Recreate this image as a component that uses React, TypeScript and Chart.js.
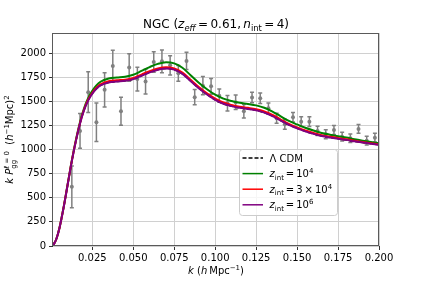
import React, { useEffect, useRef } from "react";
import { Chart, registerables } from "chart.js";
Chart.register(...registerables);

// ---- measured data points (k, k P0, error) ----
const kData = [0.0125, 0.0175, 0.0225, 0.0275, 0.0325, 0.0375, 0.0425, 0.0475, 0.0525, 0.0575, 0.0625, 0.0675, 0.0725, 0.0775, 0.0825, 0.0875, 0.0925, 0.0975, 0.1025, 0.1075, 0.1125, 0.1175, 0.1225, 0.1275, 0.1325, 0.1375, 0.1425, 0.1475, 0.1525, 0.1575, 0.1625, 0.1675, 0.1725, 0.1775, 0.1825, 0.1875, 0.1925, 0.1975];
const pData = [613, 1193, 1595, 1283, 1619, 1865, 1397, 1851, 1730, 1704, 1907, 1915, 1873, 1790, 1919, 1543, 1662, 1655, 1558, 1480, 1491, 1397, 1539, 1532, 1428, 1325, 1262, 1335, 1289, 1289, 1193, 1158, 1203, 1133, 1117, 1214, 1092, 1123];
const errData = [216, 180, 212, 200, 177, 163, 144, 142, 123, 128, 106, 118, 100, 81, 90, 80, 94, 81, 69, 81, 75, 70, 55, 55, 55, 52, 52, 50, 50, 50, 48, 47, 46, 45, 45, 45, 45, 45];

// ---- model curves ----
const kModel = [0.001, 0.003, 0.005, 0.0075, 0.01, 0.0125, 0.015, 0.0175, 0.02, 0.0225, 0.025, 0.0275, 0.03, 0.035, 0.04, 0.045, 0.05, 0.055, 0.06, 0.065, 0.07, 0.075, 0.08, 0.085, 0.09, 0.095, 0.1, 0.105, 0.11, 0.115, 0.12, 0.125, 0.13, 0.135, 0.14, 0.145, 0.15, 0.155, 0.16, 0.165, 0.17, 0.175, 0.18, 0.185, 0.19, 0.195, 0.2];
const lcdmModel = [5, 70, 190, 400, 640, 880, 1090, 1270, 1410, 1510, 1580, 1630, 1665, 1695, 1705, 1712, 1730, 1765, 1800, 1828, 1840, 1828, 1785, 1710, 1635, 1570, 1515, 1475, 1450, 1432, 1420, 1406, 1383, 1346, 1300, 1255, 1220, 1188, 1162, 1140, 1125, 1112, 1100, 1085, 1072, 1060, 1048];
const zint1e4 = [5, 70, 191, 403, 645, 888, 1102, 1286, 1430, 1535, 1610, 1665, 1703, 1737, 1747, 1755, 1775, 1815, 1855, 1888, 1905, 1893, 1848, 1770, 1692, 1625, 1568, 1528, 1503, 1485, 1473, 1458, 1433, 1393, 1344, 1297, 1260, 1226, 1197, 1172, 1154, 1138, 1124, 1107, 1092, 1078, 1064];
const zint3e4 = [5, 70, 190, 402, 643, 884, 1095, 1276, 1417, 1518, 1589, 1640, 1675, 1707, 1717, 1724, 1742, 1777, 1813, 1841, 1853, 1841, 1798, 1723, 1648, 1582, 1527, 1487, 1462, 1444, 1432, 1418, 1395, 1358, 1311, 1266, 1230, 1198, 1171, 1149, 1133, 1120, 1107, 1092, 1078, 1066, 1053];
const zint1e6 = [5, 70, 190, 400, 640, 880, 1090, 1270, 1410, 1510, 1580, 1630, 1665, 1695, 1705, 1712, 1730, 1765, 1800, 1828, 1840, 1828, 1785, 1710, 1635, 1570, 1515, 1475, 1450, 1432, 1420, 1406, 1383, 1346, 1300, 1255, 1220, 1188, 1162, 1140, 1125, 1112, 1100, 1085, 1072, 1060, 1048];

const xTicks = [0.025, 0.05, 0.075, 0.1, 0.125, 0.15, 0.175, 0.2];
const yTicks = [0, 250, 500, 750, 1000, 1250, 1500, 1750, 2000];

const FONT = '"DejaVu Sans"';
const GREY = "#808080";
const TS = "\u2009";

type Seg = { t: string; it?: boolean; sc?: number; dy?: number; hold?: boolean };
const fnt = (size: number, it?: boolean) => `${it ? "italic " : ""}${size}px ${FONT}`;

function drawRich(ctx: CanvasRenderingContext2D, segs: Seg[], x: number, y: number, size: number, align: "left" | "center") {
  const ws = segs.map((s) => {
    ctx.font = fnt(size * (s.sc ?? 1), s.it);
    return ctx.measureText(s.t).width;
  });
  let total = 0;
  segs.forEach((s, i) => { if (!s.hold) total += ws[i]; });
  let cx = align === "center" ? x - total / 2 : x;
  ctx.textAlign = "left";
  ctx.textBaseline = "alphabetic";
  segs.forEach((s, i) => {
    ctx.font = fnt(size * (s.sc ?? 1), s.it);
    ctx.fillText(s.t, cx, y + (s.dy ?? 0) * size);
    if (!s.hold) cx += ws[i];
  });
}

const SUB = 0.25;
const SUP = -0.4;
const SC = 0.7;

const decorPlugin = {
  id: "decor",
  beforeDatasetsDraw(chart: any) {
    const { ctx, scales } = chart;
    const x = scales.x, y = scales.y;
    ctx.save();
    ctx.strokeStyle = GREY;
    ctx.lineWidth = 1.5;
    kData.forEach((k, i) => {
      const px = x.getPixelForValue(k);
      const y1 = y.getPixelForValue(pData[i] - errData[i]);
      const y2 = y.getPixelForValue(pData[i] + errData[i]);
      ctx.beginPath();
      ctx.moveTo(px, y1); ctx.lineTo(px, y2);
      ctx.moveTo(px - 2, y1); ctx.lineTo(px + 2, y1);
      ctx.moveTo(px - 2, y2); ctx.lineTo(px + 2, y2);
      ctx.stroke();
    });
    ctx.restore();
  },
  afterDatasetsDraw(chart: any) {
    const { ctx, chartArea: a } = chart;
    ctx.save();
    ctx.strokeStyle = "#5a5a5a";
    ctx.lineWidth = 1;
    const L = Math.round(a.left) - 0.5, T = Math.round(a.top) + 0.5;
    const R = Math.round(a.right) - 0.5, B = Math.round(a.bottom) - 0.5;
    ctx.strokeRect(L, T, R - L, B - T);
    ctx.restore();
  },
  afterDraw(chart: any) {
    const { ctx, chartArea: a } = chart;
    ctx.save();
    ctx.fillStyle = "#000";
    const cxm = (a.left + a.right) / 2;
    // title
    drawRich(ctx, [
      { t: "NGC (" }, { t: "z", it: true }, { t: "eff", it: true, sc: SC, dy: SUB },
      { t: `${TS}=${TS}0.61,${TS}` }, { t: "n", it: true }, { t: "int", sc: SC, dy: SUB }, { t: `${TS}=${TS}4)` },
    ], cxm, 28, 12, "center");
    // x label
    drawRich(ctx, [
      { t: "k", it: true }, { t: " (" }, { t: "h", it: true }, { t: `${TS}Mpc` }, { t: "−1", sc: SC, dy: SUP }, { t: ")" },
    ], cxm, 274, 10, "center");
    // y label
    ctx.save();
    ctx.translate(13, (a.top + a.bottom) / 2);
    ctx.rotate(-Math.PI / 2);
    drawRich(ctx, [
      { t: "k", it: true }, { t: " " }, { t: "P", it: true },
      { t: "gg", sc: SC, dy: SUB, hold: true }, { t: "ℓ = 0", sc: SC, dy: SUP },
      { t: "  (" }, { t: "h", it: true }, { t: "−1", sc: SC, dy: SUP }, { t: "Mpc)" }, { t: "2", sc: SC, dy: SUP },
    ], 0, 0, 10, "center");
    ctx.restore();

    // legend
    const bx = 239.5, by = 149.5, bw = 98, bh = 66;
    ctx.beginPath();
    (ctx as any).roundRect(bx, by, bw, bh, 3);
    ctx.fillStyle = "rgba(255,255,255,0.8)";
    ctx.fill();
    ctx.strokeStyle = "#cccccc";
    ctx.lineWidth = 1;
    ctx.stroke();
    const rows: { c: string; dash: number[]; segs: Seg[] }[] = [
      { c: "#000000", dash: [4, 2], segs: [{ t: "Λ CDM" }] },
      { c: "#008000", dash: [], segs: [{ t: "z", it: true }, { t: "int", sc: SC, dy: SUB }, { t: `${TS}=${TS}10` }, { t: "4", sc: SC, dy: SUP }] },
      { c: "#ff0000", dash: [], segs: [{ t: "z", it: true }, { t: "int", sc: SC, dy: SUB }, { t: `${TS}=${TS}3${TS}×${TS}10` }, { t: "4", sc: SC, dy: SUP }] },
      { c: "#800080", dash: [], segs: [{ t: "z", it: true }, { t: "int", sc: SC, dy: SUB }, { t: `${TS}=${TS}10` }, { t: "6", sc: SC, dy: SUP }] },
    ];
    rows.forEach((r, i) => {
      const ry = 158 + i * 15.6;
      ctx.beginPath();
      ctx.setLineDash(r.dash);
      ctx.strokeStyle = r.c;
      ctx.lineWidth = 1.5;
      ctx.moveTo(242.5, ry); ctx.lineTo(263, ry);
      ctx.stroke();
      ctx.setLineDash([]);
      ctx.fillStyle = "#000";
      drawRich(ctx, r.segs, 269.5, ry + 3.5, 10, "left");
    });
    ctx.restore();
  },
};

const line = (data: number[], color: string, order: number, dash: number[] = []) => ({
  type: "line" as const,
  data: kModel.map((k, i) => ({ x: k, y: data[i] })),
  borderColor: color,
  backgroundColor: color,
  borderWidth: dash.length ? 1.5 : 2,
  borderDash: dash,
  pointRadius: 0,
  fill: false,
  cubicInterpolationMode: "monotone" as const,
  order,
});

export default function App() {
  const ref = useRef<HTMLCanvasElement>(null);
  useEffect(() => {
    document.body.style.margin = "0";
    const canvas = ref.current!;
    const chart = new Chart(canvas, {
      type: "line",
      data: {
        datasets: [
          {
            type: "scatter" as const,
            data: kData.map((k, i) => ({ x: k, y: pData[i] })),
            backgroundColor: GREY,
            borderWidth: 0,
            pointRadius: 2,
            order: 10,
          } as any,
          line(lcdmModel, "#000000", 5, [4, 2]),
          line(zint1e4, "#008000", 4),
          line(zint3e4, "#ff0000", 3),
          line(zint1e6, "#800080", 2),
        ],
      },
      options: {
        responsive: false,
        animation: false,
        devicePixelRatio: 1,
        layout: { padding: { left: 0, top: 33, right: 42, bottom: 0 } },
        plugins: { legend: { display: false }, tooltip: { enabled: false }, title: { display: false } },
        scales: {
          x: {
            type: "linear",
            min: 0.001,
            max: 0.2,
            afterFit: (s: any) => { s.height = 35; },
            afterBuildTicks: (s: any) => { s.ticks = xTicks.map((v) => ({ value: v })); },
            ticks: {
              callback: (v: any) => Number(v).toFixed(3),
              font: { family: FONT, size: 10 },
              color: "#000",
              padding: 2,
              maxRotation: 0,
              autoSkip: false,
            },
            grid: { color: "#d0d0d0", lineWidth: 1, drawTicks: true, tickLength: 4, tickColor: "#333" },
            border: { display: false },
          },
          y: {
            type: "linear",
            min: 0,
            max: 2208,
            afterFit: (s: any) => { s.width = 53; },
            afterBuildTicks: (s: any) => { s.ticks = yTicks.map((v) => ({ value: v })); },
            ticks: {
              callback: (v: any) => String(v),
              font: { family: FONT, size: 10 },
              color: "#000",
              padding: 3,
              autoSkip: false,
            },
            grid: { color: "#d0d0d0", lineWidth: 1, drawTicks: true, tickLength: 4, tickColor: "#333" },
            border: { display: false },
          },
        },
      },
      plugins: [decorPlugin as any],
    });
    return () => chart.destroy();
  }, []);
  return <canvas ref={ref} width={421} height={281} style={{ display: "block", width: 421, height: 281 }} />;
}
